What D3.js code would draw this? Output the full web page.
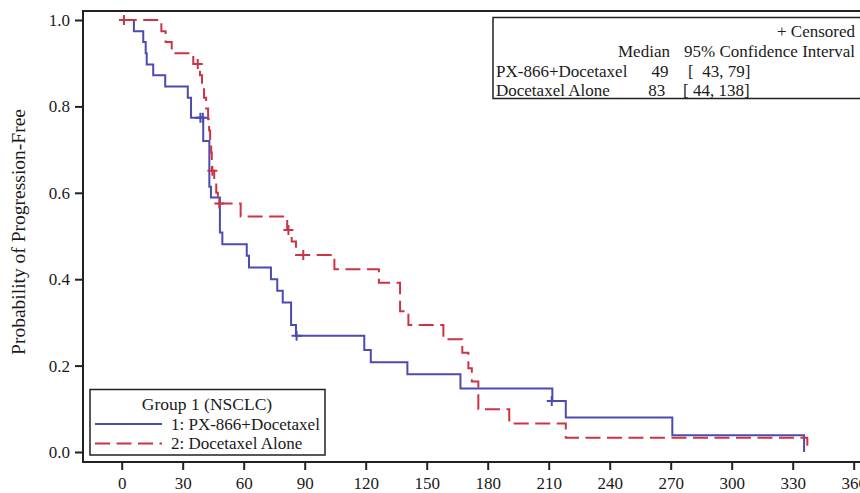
<!DOCTYPE html>
<html>
<head>
<meta charset="utf-8">
<script src="https://cdn.jsdelivr.net/npm/d3@7"></script>
<style>
  body { margin: 0; background: #fff; }
  text { font-family: "Liberation Serif", "Times New Roman", serif; fill: #1a1a1a; }
</style>
</head>
<body>
<div id="drawarea"></div>
<script>
// Kaplan-Meier steps: [day, survival]
let pxTimes = [0, 6.0, 10.6, 11.8, 12.3, 15.5, 21.4, 32.5, 34.1, 40.1, 43.1, 43.9, 48.3, 49.5, 61.5, 62.6, 73.4, 76.5, 79.2, 83.3, 85.7, 119.3, 122.5, 140.5, 166.6, 211.8, 218.4, 270.8, 335.6];
let pxSurv  = [1, 0.974, 0.949, 0.923, 0.897, 0.872, 0.846, 0.820, 0.774, 0.720, 0.614, 0.589, 0.508, 0.481, 0.454, 0.427, 0.400, 0.373, 0.346, 0.294, 0.269, 0.236, 0.208, 0.180, 0.147, 0.118, 0.080, 0.039, 0];
let pxCensT = [38.7, 39.9, 86.0, 211.5];
let pxCensS = [0.774, 0.774, 0.269, 0.118];

let dxTimes = [0, 19.5, 21.6, 24.6, 35.2, 38.5, 39.5, 40.5, 41.5, 42.5, 43.0, 43.5, 44.0, 44.3, 45.5, 46.5, 47.3, 58.5, 81.4, 83.6, 85.7, 104.6, 126.5, 136.9, 141.0, 158.2, 167.5, 170.5, 172.2, 175.4, 190.6, 218.4, 337.2];
let dxSurv  = [1, 0.974, 0.949, 0.923, 0.898, 0.872, 0.846, 0.820, 0.795, 0.770, 0.744, 0.718, 0.693, 0.651, 0.626, 0.600, 0.575, 0.545, 0.514, 0.487, 0.456, 0.423, 0.392, 0.326, 0.294, 0.261, 0.230, 0.194, 0.163, 0.099, 0.066, 0.033, 0];
let dxCensT = [1.1, 37.4, 44.6, 48.0, 82.0, 89.3];
let dxCensS = [1.0, 0.898, 0.651, 0.575, 0.514, 0.456];

let xTicks = [0, 30, 60, 90, 120, 150, 180, 210, 240, 270, 300, 330, 360];
let yTicks = [0, 0.2, 0.4, 0.6, 0.8, 1.0];

let groupNames = ["PX-866+Docetaxel", "Docetaxel Alone"];
let medians = ["49", "83"];
let intervals = ["[  43, 79]", "[ 44, 138]"];
let legendLabels = ["1: PX-866+Docetaxel", "2: Docetaxel Alone"];

let blue = "#4b4bb0";
let red = "#cc3344";

let svg = d3.select("div#drawarea").append("svg")
    .attr("width", 860)
    .attr("height", 493);

let x = d3.scaleLinear().domain([0, 360]).range([121.7, 853.7]);
let y = d3.scaleLinear().domain([0, 1]).range([452, 20]);

// frame: left, top, bottom (right side runs off the picture)
let frame = svg.append("g").attr("stroke", "#222").attr("stroke-width", 2);
frame.append("line").attr("x1", 83).attr("x2", 83).attr("y1", 11).attr("y2", 462);
frame.append("line").attr("x1", 82).attr("x2", 870).attr("y1", 11).attr("y2", 11);
frame.append("line").attr("x1", 82).attr("x2", 870).attr("y1", 462).attr("y2", 462);

//Axes, domain lines removed since the frame draws them
let xAxis = svg.append("g")
    .attr("transform", "translate(0,462)")
    .call(d3.axisBottom(x).tickValues(xTicks).tickSize(8).tickPadding(7).tickFormat(d3.format("d")));
let yAxis = svg.append("g")
    .attr("transform", "translate(83,0)")
    .call(d3.axisLeft(y).tickValues(yTicks).tickSize(8).tickPadding(5).tickFormat(d3.format(".1f")));
[xAxis, yAxis].forEach(ax => {
    ax.select(".domain").remove();
    ax.selectAll("line").attr("stroke", "#222").attr("stroke-width", 2);
    ax.selectAll("text").attr("font-size", 17).attr("font-family", "Liberation Serif").attr("fill", "#1a1a1a");
});

svg.append("text")
    .attr("transform", "translate(25,232) rotate(-90)")
    .attr("text-anchor", "middle")
    .attr("font-size", 19.5)
    .text("Probability of Progression-Free");

//Step curves
let line = d3.line()
    .x(d => x(d[0]))
    .y(d => y(d[1]))
    .curve(d3.curveStepAfter);

svg.append("path")
    .datum(pxTimes.map((t, k) => [t, pxSurv[k]]))
    .attr("d", line)
    .attr("fill", "none")
    .attr("stroke", blue)
    .attr("stroke-width", 2);

svg.append("path")
    .datum(dxTimes.map((t, k) => [t, dxSurv[k]]))
    .attr("d", line)
    .attr("fill", "none")
    .attr("stroke", red)
    .attr("stroke-width", 2)
    .attr("stroke-dasharray", "15,6.5");

//Censor marks
function plus(cx, cy) {
    return "M" + (cx - 5) + "," + cy + "H" + (cx + 5) + "M" + cx + "," + (cy - 5) + "V" + (cy + 5);
}
pxCensT.forEach((t, k) => {
    svg.append("path").attr("d", plus(x(t), y(pxCensS[k])))
        .attr("stroke", blue).attr("stroke-width", 2);
});
dxCensT.forEach((t, k) => {
    svg.append("path").attr("d", plus(x(t), y(dxCensS[k])))
        .attr("stroke", red).attr("stroke-width", 2);
});

//Median table, top right
let tbl = svg.append("g");
tbl.append("rect")
    .attr("x", 493).attr("y", 17.5).attr("width", 400).attr("height", 81)
    .attr("fill", "white").attr("stroke", "#222").attr("stroke-width", 1.5);
tbl.append("text").attr("x", 855).attr("y", 37).attr("text-anchor", "end").attr("font-size", 17).text("+ Censored");
tbl.append("text").attr("x", 618).attr("y", 57).attr("font-size", 17).text("Median");
tbl.append("text").attr("x", 855).attr("y", 57).attr("text-anchor", "end").attr("font-size", 17).text("95% Confidence Interval");
let medX = [651.5, 648.3];
let ciX = [688, 683];
groupNames.forEach((g, k) => {
    let by = 77 + k * 19;
    tbl.append("text").attr("x", 496).attr("y", by).attr("font-size", 17).text(g);
    tbl.append("text").attr("x", medX[k]).attr("y", by).attr("font-size", 17).text(medians[k]);
    tbl.append("text").attr("x", ciX[k]).attr("y", by).attr("font-size", 17)
        .style("white-space", "pre").text(intervals[k]);
});

//Legend, bottom left
let leg = svg.append("g");
leg.append("rect")
    .attr("x", 90).attr("y", 389.5).attr("width", 235).attr("height", 65.5)
    .attr("fill", "white").attr("stroke", "#222").attr("stroke-width", 1.5);
leg.append("text").attr("x", 207).attr("y", 410).attr("text-anchor", "middle").attr("font-size", 17.5).text("Group 1 (NSCLC)");
legendLabels.forEach((lab, k) => {
    let ly = 424 + k * 19.5;
    leg.append("line")
        .attr("x1", 95).attr("x2", 162).attr("y1", ly).attr("y2", ly)
        .attr("stroke", k === 0 ? blue : red).attr("stroke-width", 2)
        .attr("stroke-dasharray", k === 0 ? null : "15,6.5");
    leg.append("text").attr("x", 171).attr("y", ly + 5.5).attr("font-size", 17).text(lab);
});
</script>
</body>
</html>
